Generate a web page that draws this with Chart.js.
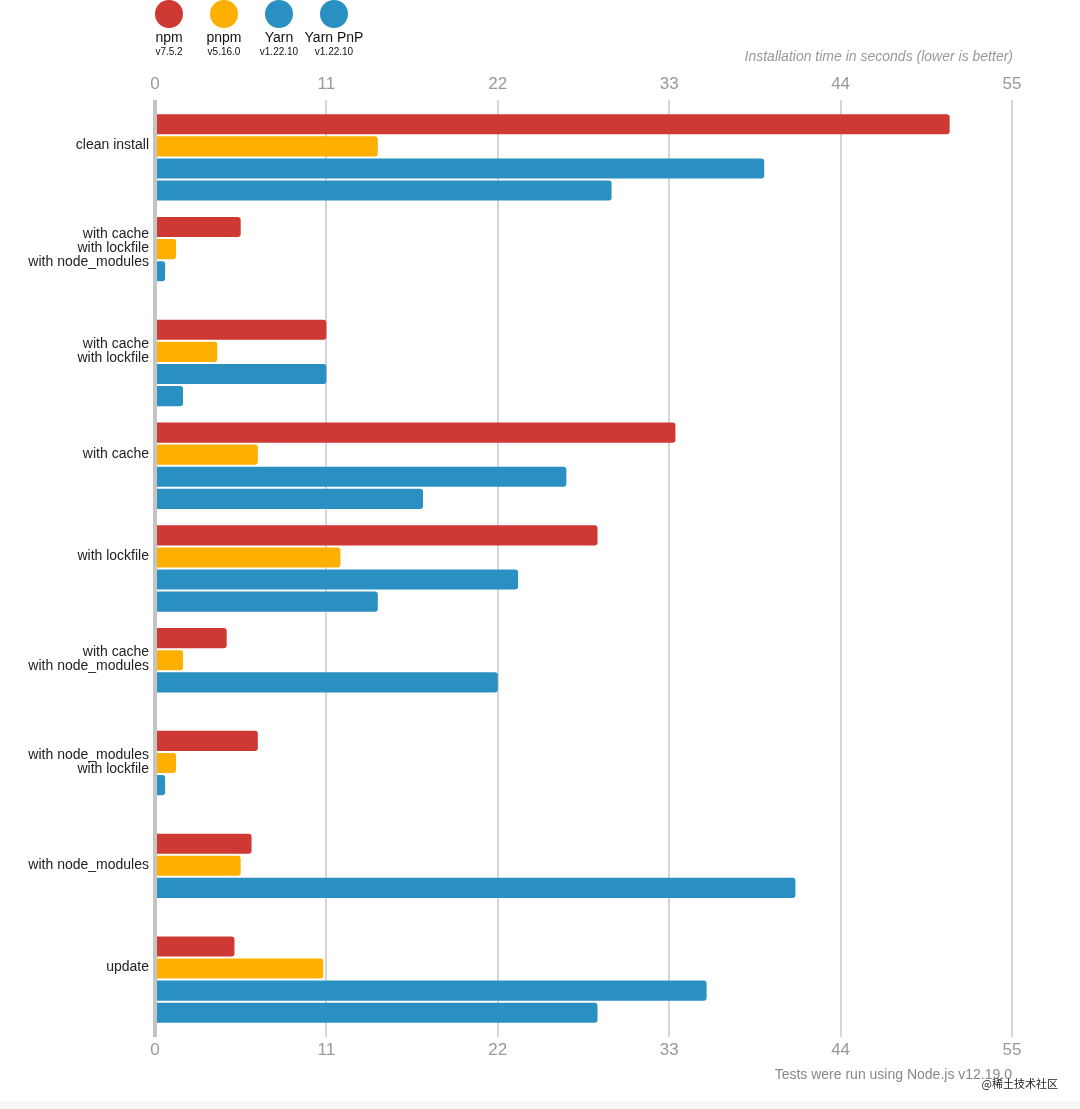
<!DOCTYPE html>
<html>
<head>
<meta charset="utf-8">
<script src="https://cdn.jsdelivr.net/npm/chart.js@4.4.1/dist/chart.umd.min.js"></script>
<style>
  body { margin: 0; background: #fff; font-family: "Liberation Sans", Arial, sans-serif; }
  #wrap { position: relative; width: 1080px; height: 1109px; }
  .leg { position: absolute; top: 0px; width: 60px; text-align: center; color: #111; }
  .leg .dot { width: 28px; height: 28px; border-radius: 50%; margin: 0 auto; }
  .leg .name { font-size: 14px; margin-top: 2px; line-height: 15px; }
  .leg .ver { font-size: 10px; line-height: 13px; }
  #title { position: absolute; right: 67px; top: 48px; font-size: 14px; font-style: italic; color: #999; }
  #foot { position: absolute; right: 68px; top: 1066px; font-size: 14px; color: #888; }
  #mark { position: absolute; right: 22px; top: 1075px; font-size: 11px; color: #222; font-family: "Noto Sans CJK SC", sans-serif; }
  #band { position: absolute; left: 0; right: 0; bottom: 0; height: 8px; background: #f6f6f6; }
</style>
</head>
<body>
<div id="wrap">
  <canvas id="myChart"></canvas>
  <div class="leg" style="left:139px"><div class="dot" style="background:#ce3934"></div><div class="name">npm</div><div class="ver">v7.5.2</div></div>
  <div class="leg" style="left:194px"><div class="dot" style="background:#fdb001"></div><div class="name">pnpm</div><div class="ver">v5.16.0</div></div>
  <div class="leg" style="left:249px"><div class="dot" style="background:#2a8fc1"></div><div class="name">Yarn</div><div class="ver">v1.22.10</div></div>
  <div class="leg" style="left:304px"><div class="dot" style="background:#2a8fc1"></div><div class="name">Yarn PnP</div><div class="ver">v1.22.10</div></div>
  <div id="title">Installation time in seconds (lower is better)</div>
  <div id="foot">Tests were run using Node.js v12.19.0</div>
  <div id="mark">@稀土技术社区</div>
  <div id="band"></div>
</div>
<script>
// scenarios
var labels = [
  'clean install',
  ['with cache', 'with lockfile', 'with node_modules'],
  ['with cache', 'with lockfile'],
  'with cache',
  'with lockfile',
  ['with cache', 'with node_modules'],
  ['with node_modules', 'with lockfile'],
  'with node_modules',
  'update'
];
// seconds per tool
var npm     = [51.0, 5.5, 11.0, 33.4, 28.4, 4.6, 6.6, 6.2, 5.1];
var pnpm    = [14.3, 1.35, 4.0, 6.6, 11.9, 1.8, 1.35, 5.5, 10.8];
var yarn    = [39.1, 0.65, 11.0, 26.4, 23.3, 22.0, 0.65, 41.1, 35.4];
var yarnPnp = [29.3, null, 1.8, 17.2, 14.3, null, null, null, 28.4];
var ticksX = [0, 11, 22, 33, 44, 55];

var canvas = document.getElementById('myChart');
canvas.width = 1080; canvas.height = 1109;

function ds(label, data, color) {
  return {
    label: label,
    data: data,
    backgroundColor: color,
    borderWidth: 0,
    borderRadius: 3,
    borderSkipped: 'start',
    barPercentage: 0.91,
    categoryPercentage: 0.86
  };
}

function gridColor(c) { return c.tick && c.tick.value === 0 ? '#c4c4c4' : '#d6d6d6'; }
function gridWidth(c) { return c.tick && c.tick.value === 0 ? 4 : 2; }

var ctx = canvas.getContext('2d');
var myChart = new Chart(ctx, {
  type: 'bar',
  data: {
    labels: labels,
    datasets: [
      ds('npm', npm, '#ce3934'),
      ds('pnpm', pnpm, '#fdb001'),
      ds('Yarn', yarn, '#2a8fc1'),
      ds('Yarn PnP', yarnPnp, '#2a8fc1')
    ]
  },
  options: {
    indexAxis: 'y',
    responsive: false,
    animation: false,
    layout: { padding: { top: 0, right: 68, bottom: 0, left: 0 } },
    plugins: { legend: { display: false }, tooltip: { enabled: false } },
    scales: {
      y: {
        afterFit: function(scale) { scale.width = 155; },
        grid: { display: false },
        border: { display: false },
        ticks: {
          color: '#222',
          padding: -2,
          labelOffset: -12,
          font: { family: '"Liberation Sans", Arial, sans-serif', size: 14, lineHeight: 1.0 }
        }
      },
      x: {
        position: 'bottom',
        min: 0, max: 55,
        afterFit: function(scale) { scale.height = 78; },
        afterBuildTicks: function(scale) { scale.ticks = ticksX.map(function(v) { return { value: v }; }); },
        border: { display: false },
        grid: { color: gridColor, lineWidth: gridWidth, tickLength: 6 },
        ticks: { color: '#999', padding: 3, font: { family: '"Liberation Sans", Arial, sans-serif', size: 17 } }
      },
      x2: {
        type: 'linear',
        position: 'top',
        min: 0, max: 55,
        afterFit: function(scale) { scale.height = 106; },
        afterBuildTicks: function(scale) { scale.ticks = ticksX.map(function(v) { return { value: v }; }); },
        border: { display: false },
        grid: { drawOnChartArea: false, color: gridColor, lineWidth: gridWidth, tickLength: 6 },
        ticks: { color: '#999', padding: 5, font: { family: '"Liberation Sans", Arial, sans-serif', size: 17 } }
      }
    }
  }
});
</script>
</body>
</html>
